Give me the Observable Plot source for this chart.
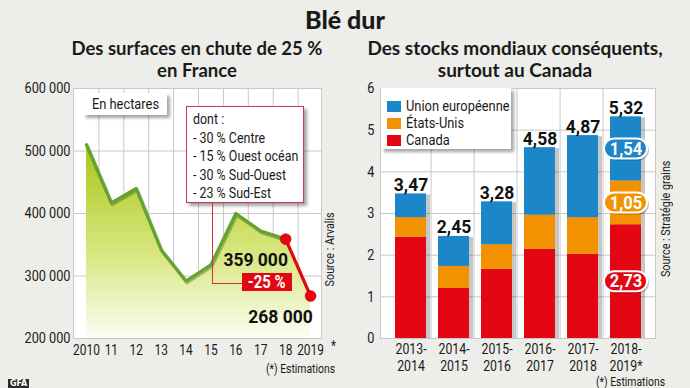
<!DOCTYPE html>
<html>
<head>
<meta charset="utf-8">
<script src="https://cdn.jsdelivr.net/npm/d3@7"></script>
<script src="https://cdn.jsdelivr.net/npm/@observablehq/plot@0.6"></script>
<style>
  html, body { margin:0; padding:0; background:#ededea; }
  #root { position:relative; width:690px; height:388px; overflow:hidden; background:#ededea;
          font-family:Roboto,"DejaVu Sans Condensed",sans-serif; color:#1a1a1a; }
  .ttl { position:absolute; font-family:Lato,"Open Sans",sans-serif; font-weight:900; text-align:center; color:#1a1a1a; }
  .box { position:absolute; background:#fff; box-shadow:3px 3px 3px rgba(0,0,0,0.35); }
  .abs { position:absolute; white-space:nowrap; }
  .chart { position:absolute; top:80px; }
  .c { display:inline-block; transform:scaleX(0.83); transform-origin:0 0; white-space:nowrap; }
  .cc { display:inline-block; transform:scaleX(0.83); transform-origin:50% 50%; white-space:nowrap; }
</style>
</head>
<body>
<div id="root">
  <div class="ttl" style="left:0;top:3px;width:690px;font-size:25px;line-height:32px;">Blé dur</div>
  <div class="ttl" style="left:62px;top:37px;width:270px;font-size:18.5px;line-height:22px;font-weight:700;">Des surfaces en chute de 25 %<br>en France</div>
  <div class="ttl" style="left:360px;top:37px;width:310px;font-size:19px;line-height:22px;font-weight:700;">Des stocks mondiaux conséquents,<br>surtout au Canada</div>

  <div id="left" class="chart" style="left:0"></div>
  <div id="right" class="chart" style="left:345px"></div>

  <!-- left annotations -->
  <div class="box abs" style="left:83px;top:93px;width:84px;height:22px;font-size:15.5px;line-height:22px;text-align:center;"><span class="cc">En hectares</span></div>
  <div class="box abs" style="left:186px;top:106px;width:118px;height:97px;border:1.5px solid #c43a52;box-sizing:border-box;">
    <div class="c" style="position:absolute;left:6px;top:3px;font-size:15px;line-height:18.5px;">dont :<br>- 30 % Centre<br>- 15 % Ouest océan<br>- 30 % Sud-Ouest<br>- 23 % Sud-Est</div>
  </div>
  <div class="abs" style="left:212px;top:203px;width:30px;height:80px;border-left:1px solid #d8283a;border-bottom:1px solid #d8283a;"></div>
  <div class="abs" style="left:242px;top:273px;width:50px;height:18px;background:#e30613;color:#fff;font-weight:bold;font-size:18px;line-height:18px;text-align:center;"><span class="cc">-25 %</span></div>
  <div class="abs" style="left:329px;top:294px;width:0;height:0;"><div style="transform:translate(-50%,-50%) rotate(-90deg);font-size:13px;line-height:13px;"><span class="cc">Source : Arvalis</span></div></div>
  <div class="abs" style="left:266px;top:362px;font-size:12.5px;line-height:13px;"><span class="c">(*) Estimations</span></div>

  <!-- right annotations -->
  <div class="box abs" style="left:381px;top:88px;width:130px;height:61px;font-size:15.5px;line-height:15px;">
    <div style="position:absolute;left:6px;top:11px;"><span style="display:inline-block;width:14px;height:11px;background:#1b87c9;vertical-align:-1px;margin-right:5px;"></span><span class="c">Union européenne</span></div>
    <div style="position:absolute;left:6px;top:28px;"><span style="display:inline-block;width:14px;height:11px;background:#f39200;vertical-align:-1px;margin-right:5px;"></span><span class="c">États-Unis</span></div>
    <div style="position:absolute;left:6px;top:45px;"><span style="display:inline-block;width:14px;height:11px;background:#e30613;vertical-align:-1px;margin-right:5px;"></span><span class="c">Canada</span></div>
  </div>
  <div class="abs" style="left:665px;top:289px;width:0;height:0;"><div style="transform:translate(-50%,-50%) rotate(-90deg);font-size:13px;line-height:13px;white-space:nowrap;"><span class="cc">Source : Stratégie grains</span></div></div>
  <div class="abs" style="left:596px;top:375px;font-size:12.5px;line-height:13px;"><span class="c">(*) Estimations</span></div>

  <div class="abs" style="left:8px;top:379px;height:9px;padding:0 2px;background:#2a2a2a;color:#fff;font:bold 8px/9px 'DejaVu Sans',sans-serif;">GFA</div>
</div>

<script>
// ---------- data: left chart ----------
const years = [2010, 2011, 2012, 2013, 2014, 2015, 2016, 2017, 2018, 2019];
const yearLabels = ["2010", "11", "12", "13", "14", "15", "16", "17", "18", "2019"];
const surfaces = [510000, 417000, 440000, 342000, 292000, 318000, 400000, 372000, 359000, 268000];
const leftTicks = [200000, 300000, 400000, 500000, 600000];
const highlightLabels = ["359 000", "268 000"];

// ---------- data: right chart ----------
const campaigns = ["2013-2014", "2014-2015", "2015-2016", "2016-2017", "2017-2018", "2018-2019*"];
const canada = [2.43, 1.20, 1.66, 2.14, 2.02, 2.73];
const etatsUnis = [0.47, 0.53, 0.59, 0.82, 0.88, 1.05];
const unionEuropeenne = [0.57, 0.72, 1.03, 1.62, 1.97, 1.54];
const totals = [3.47, 2.45, 3.28, 4.58, 4.87, 5.32];
const seriesNames = ["Canada", "États-Unis", "Union européenne"];
const seriesColors = ["#e30613", "#f39200", "#1b87c9"];
const rightTicks = [0, 1, 2, 3, 4, 5, 6];

const FONT = 'Roboto,"DejaVu Sans Condensed",sans-serif';
const fr = d => d3.format(",.2f")(d).replace(".", ",");
const sp = d => d3.format(",")(d).replace(/,/g, " ");

// narrow the glyphs of every SVG text (condensed look of the original)
function condense(svg, normal, bold) {
  d3.select(svg).selectAll("text").each(function() {
    const tsp = this.querySelectorAll("tspan");
    const els = tsp.length ? Array.from(tsp) : [this];
    const w = +getComputedStyle(this).fontWeight >= 600 ? bold : normal;
    for (const el of els) {
      const L = el.getComputedTextLength();
      if (L > 0) { el.setAttribute("textLength", L * w); el.setAttribute("lengthAdjust", "spacingAndGlyphs"); }
    }
  });
}

// ---------- left chart ----------
const surf = years.map((y, i) => ({year: y, value: surfaces[i], label: yearLabels[i]}));
const green = surf.slice(0, 9);
const red = surf.slice(8);
const labelMap = new Map(surf.map(d => [d.year, d.label]));

const left = Plot.plot({
  width: 345, height: 308,
  marginLeft: 73, marginRight: 24, marginTop: 8, marginBottom: 50,
  style: {background: "transparent", fontFamily: FONT, fontSize: "15px", color: "#1a1a1a", overflow: "visible"},
  x: {domain: [2009.48, 2019.44]},
  y: {domain: [200000, 600000]},
  marks: [
    Plot.frame({fill: "#fff", stroke: null}),
    Plot.ruleY(leftTicks.slice(1, -1), {stroke: "#c8c8c8"}),
    Plot.ruleX(years.slice(0, -1), {x: d => d + 0.5, stroke: "#c8c8c8"}),
    Plot.areaY(surf, {x: "year", y1: 200000, y2: "value", fill: "url(#wheatGrad)"}),
    Plot.lineY(green, {x: "year", y: "value", stroke: "#2d4a10", strokeOpacity: 0.35, strokeWidth: 3.5, dx: 1, dy: 1.5}),
    Plot.lineY(green, {x: "year", y: "value", stroke: "#64a32e", strokeWidth: 3.2}),
    Plot.lineY(red, {x: "year", y: "value", stroke: "#e30613", strokeWidth: 3.2}),
    Plot.dot(red, {x: "year", y: "value", r: 5.5, fill: "#e30613", stroke: "#c00010", strokeWidth: 0.5}),
    Plot.text(red, {x: "year", y: "value", text: (d, i) => highlightLabels[i], dx: -30, dy: 21, fontWeight: "bold", fontSize: 19, fill: "#111"}),
    Plot.frame({stroke: "#c8c8c8"}),
    Plot.axisY({ticks: leftTicks, tickSize: 0, tickPadding: 3, tickFormat: sp, fontSize: 15.5, label: null}),
    Plot.axisX({ticks: years, tickSize: 0, tickPadding: 6, tickFormat: d => labelMap.get(d), fontSize: 14.5, label: null}),
    Plot.text([2019], {x: d => d, y: 200000, text: () => "*", dx: 23, dy: 8, fontSize: 14})
  ]
});
d3.select(left).insert("defs", ":first-child").html(
  '<linearGradient id="wheatGrad" x1="0" y1="0" x2="0" y2="1">' +
  '<stop offset="0" stop-color="#a9c51a"/><stop offset="0.55" stop-color="#d7e67c"/>' +
  '<stop offset="1" stop-color="#fbfdf3"/></linearGradient>');
document.getElementById("left").appendChild(left);
condense(left, 0.82, 0.92);

// ---------- right chart ----------
const seriesArrays = [canada, etatsUnis, unionEuropeenne];
const stock = [];
campaigns.forEach((c, i) => seriesNames.forEach((s, j) => stock.push({campaign: c, series: s, value: seriesArrays[j][i]})));
const tot = campaigns.map((c, i) => ({campaign: c, total: totals[i]}));
const last = campaigns.length - 1;
let base = 0;
const pills = seriesNames.map((s, j) => {
  const v = seriesArrays[j][last];
  const mid = base + v / 2; base += v;
  return {campaign: campaigns[last], series: s, mid, value: v};
});
const innerW = 345 - 35 - 35;
const step = innerW / campaigns.length;

const right = Plot.plot({
  width: 345, height: 308,
  marginLeft: 35, marginRight: 35, marginTop: 8, marginBottom: 50,
  style: {background: "transparent", fontFamily: FONT, fontSize: "15px", color: "#1a1a1a", overflow: "visible"},
  x: {domain: campaigns, padding: 0.28},
  y: {domain: [0, 6]},
  color: {domain: seriesNames, range: seriesColors},
  marks: [
    Plot.frame({fill: "#fff", stroke: null}),
    Plot.ruleY(rightTicks.slice(1, -1), {stroke: "#c8c8c8"}),
    Plot.ruleX(campaigns.slice(1), {x: d => d, dx: -step / 2, stroke: "#c8c8c8"}),
    Plot.barY(tot, {x: "campaign", y: "total", dx: 4, dy: 1, fill: "#000", fillOpacity: 0.22}),
    Plot.barY(stock, {x: "campaign", y: "value", z: "series", fill: "series", order: seriesNames}),
    Plot.text(tot, {x: "campaign", y: "total", text: d => fr(d.total), dy: -3, lineAnchor: "bottom", fontWeight: "bold", fontSize: 19, fill: "#111"}),
    Plot.barY(pills, {x: "campaign", y1: "mid", y2: "mid", insetTop: -10, insetBottom: -10, insetLeft: -6, insetRight: -6, rx: 10, fill: "#000", fillOpacity: 0.25, dx: 2, dy: 2}),
    Plot.barY(pills, {x: "campaign", y1: "mid", y2: "mid", insetTop: -10, insetBottom: -10, insetLeft: -6, insetRight: -6, rx: 10, fill: "series", stroke: "#fff", strokeWidth: 2}),
    Plot.text(pills, {x: "campaign", y: "mid", text: d => fr(d.value), fill: "#fff", fontWeight: "bold", fontSize: 18}),
    Plot.frame({stroke: "#c8c8c8"}),
    Plot.axisY({ticks: rightTicks, tickSize: 0, tickPadding: 6, tickFormat: d => String(d), fontSize: 15.5, label: null}),
    Plot.axisX({tickSize: 0, tickPadding: 3, tickFormat: d => d.replace("-", "-\n"), lineHeight: 1.15, fontSize: 15, label: null})
  ]
});
document.getElementById("right").appendChild(right);
condense(right, 0.82, 0.92);
</script>
</body>
</html>
